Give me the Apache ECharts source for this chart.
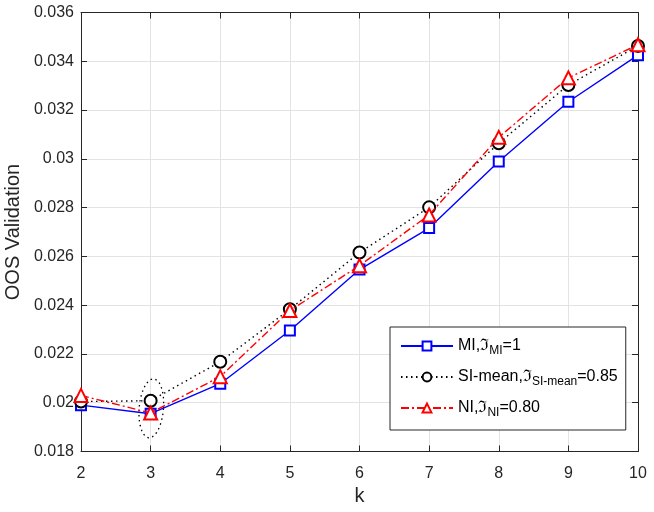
<!DOCTYPE html>
<html>
<head>
<meta charset="utf-8">
<script src="https://cdn.jsdelivr.net/npm/echarts@6/dist/echarts.min.js"></script>
<style>html,body{margin:0;padding:0;background:#fff}#c{width:654px;height:512px}</style>
</head>
<body>
<div id="c"></div>
<script>
const kValues = [2, 3, 4, 5, 6, 7, 8, 9, 10];
const miValues = [0.01990, 0.01955, 0.02078, 0.02296, 0.02546, 0.02716, 0.02989, 0.03234, 0.03425];
const siValues = [0.02005, 0.02008, 0.02168, 0.02383, 0.02616, 0.02801, 0.03064, 0.03303, 0.03463];
const niValues = [0.02030, 0.01958, 0.02107, 0.02378, 0.02562, 0.02770, 0.03088, 0.03332, 0.03468];
const yTicks = [0.018, 0.02, 0.022, 0.024, 0.026, 0.028, 0.03, 0.032, 0.034, 0.036];
// annotation ellipse around k = 3
const ellipseCenter = [3.01, 0.01977];
const ellipseRadii = [0.175, 0.00121];
const ellipseShear = 0.03;

const ellipse = [];
for (let i = 0; i <= 72; i++) {
  const t = i / 72 * 2 * Math.PI;
  ellipse.push([
    ellipseCenter[0] + ellipseRadii[0] * Math.cos(t) + ellipseShear * Math.sin(t),
    ellipseCenter[1] + ellipseRadii[1] * Math.sin(t)
  ]);
}

const font = 'Liberation Sans, Arial, Helvetica, sans-serif';
const axisColor = '#262626';
const chart = echarts.init(document.getElementById('c'));
const pair = arr => kValues.map((k, i) => [k, arr[i]]);

const labels = {
  'MI': '{a|MI,ℑ}{s|MI}{a|=1}',
  'SI-mean': '{a|SI-mean,ℑ}{s|SI-mean}{a|=0.85}',
  'NI': '{a|NI,ℑ}{s|NI}{a|=0.80}'
};

chart.setOption({
  animation: false,
  textStyle: { fontFamily: font },
  grid: { left: 81, right: 16, top: 12.5, bottom: 60.5, show: false, containLabel: false, outerBoundsMode: 'none' },
  legend: {
    orient: 'vertical',
    left: 390, top: 327,
    width: 230,
    padding: [11, 8, 11, 10],
    itemGap: 12,
    itemWidth: 52, itemHeight: 11,
    backgroundColor: '#fff',
    borderColor: axisColor, borderWidth: 1, borderRadius: 0,
    data: ['MI', 'SI-mean', 'NI'],
    formatter: n => labels[n],
    textStyle: {
      fontFamily: font,
      rich: {
        a: { fontSize: 16, color: '#000', fontFamily: font },
        s: { fontSize: 12, color: '#000', fontFamily: font, padding: [10, 0, 0, 0] }
      }
    }
  },
  xAxis: [{
    type: 'value', min: 2, max: 10, interval: 1,
    name: 'k', nameLocation: 'middle', nameGap: 35,
    nameTextStyle: { fontSize: 20, color: '#262626', fontFamily: font },
    axisLine: { show: true, lineStyle: { color: axisColor, width: 1 } },
    axisTick: { show: true, inside: true, length: 6, lineStyle: { color: axisColor } },
    axisLabel: { fontSize: 16, color: '#262626', margin: 14, fontFamily: font },
    splitLine: { show: true, lineStyle: { color: '#e3e3e3', width: 1 } }
  }, {
    type: 'value', min: 2, max: 10, interval: 1, position: 'top',
    axisLine: { show: true, lineStyle: { color: axisColor, width: 1 } },
    axisTick: { show: true, inside: true, length: 6, lineStyle: { color: axisColor } },
    axisLabel: { show: false }, splitLine: { show: false }
  }],
  yAxis: [{
    type: 'value', min: 0.018, max: 0.036, interval: 0.002,
    name: 'OOS Validation', nameLocation: 'middle', nameGap: 52,
    nameTextStyle: { fontSize: 20, color: '#262626', fontFamily: font },
    axisLine: { show: true, lineStyle: { color: axisColor, width: 1 } },
    axisTick: { show: true, inside: true, length: 6, lineStyle: { color: axisColor } },
    axisLabel: {
      fontSize: 16, color: '#262626', margin: 7, fontFamily: font,
      formatter: v => { const t = yTicks.find(x => Math.abs(x - v) < 1e-9); return String(t !== undefined ? t : +v.toFixed(3)); }
    },
    splitLine: { show: true, lineStyle: { color: '#e3e3e3', width: 1 } }
  }, {
    type: 'value', min: 0.018, max: 0.036, interval: 0.002, position: 'right',
    axisLine: { show: true, lineStyle: { color: axisColor, width: 1 } },
    axisTick: { show: true, inside: true, length: 6, lineStyle: { color: axisColor } },
    axisLabel: { show: false }, splitLine: { show: false }
  }],
  series: [{
    name: 'ellipse', type: 'line', data: ellipse, showSymbol: false, symbol: 'none',
    lineStyle: { color: '#000', width: 1.3, type: [1.5, 3.5] }, silent: true, z: 1
  }, {
    name: 'MI', type: 'line', data: pair(miValues),
    symbol: 'emptyRect', symbolSize: 10,
    lineStyle: { color: '#0000ff', width: 1.4 },
    itemStyle: { color: '#0000ff', borderWidth: 1.3 }, z: 3
  }, {
    name: 'SI-mean', type: 'line', data: pair(siValues),
    symbol: 'emptyCircle', symbolSize: 12,
    lineStyle: { color: '#000', width: 1.4, type: [1.5, 3.5] },
    itemStyle: { color: '#000', borderWidth: 1.3 }, z: 4
  }, {
    name: 'NI', type: 'line', data: pair(niValues),
    symbol: 'emptyTriangle', symbolSize: 13,
    lineStyle: { color: '#ff0000', width: 1.4, type: [8, 3, 2, 3] },
    itemStyle: { color: '#ff0000', borderWidth: 1.3 }, z: 5
  }]
});
</script>
</body>
</html>
